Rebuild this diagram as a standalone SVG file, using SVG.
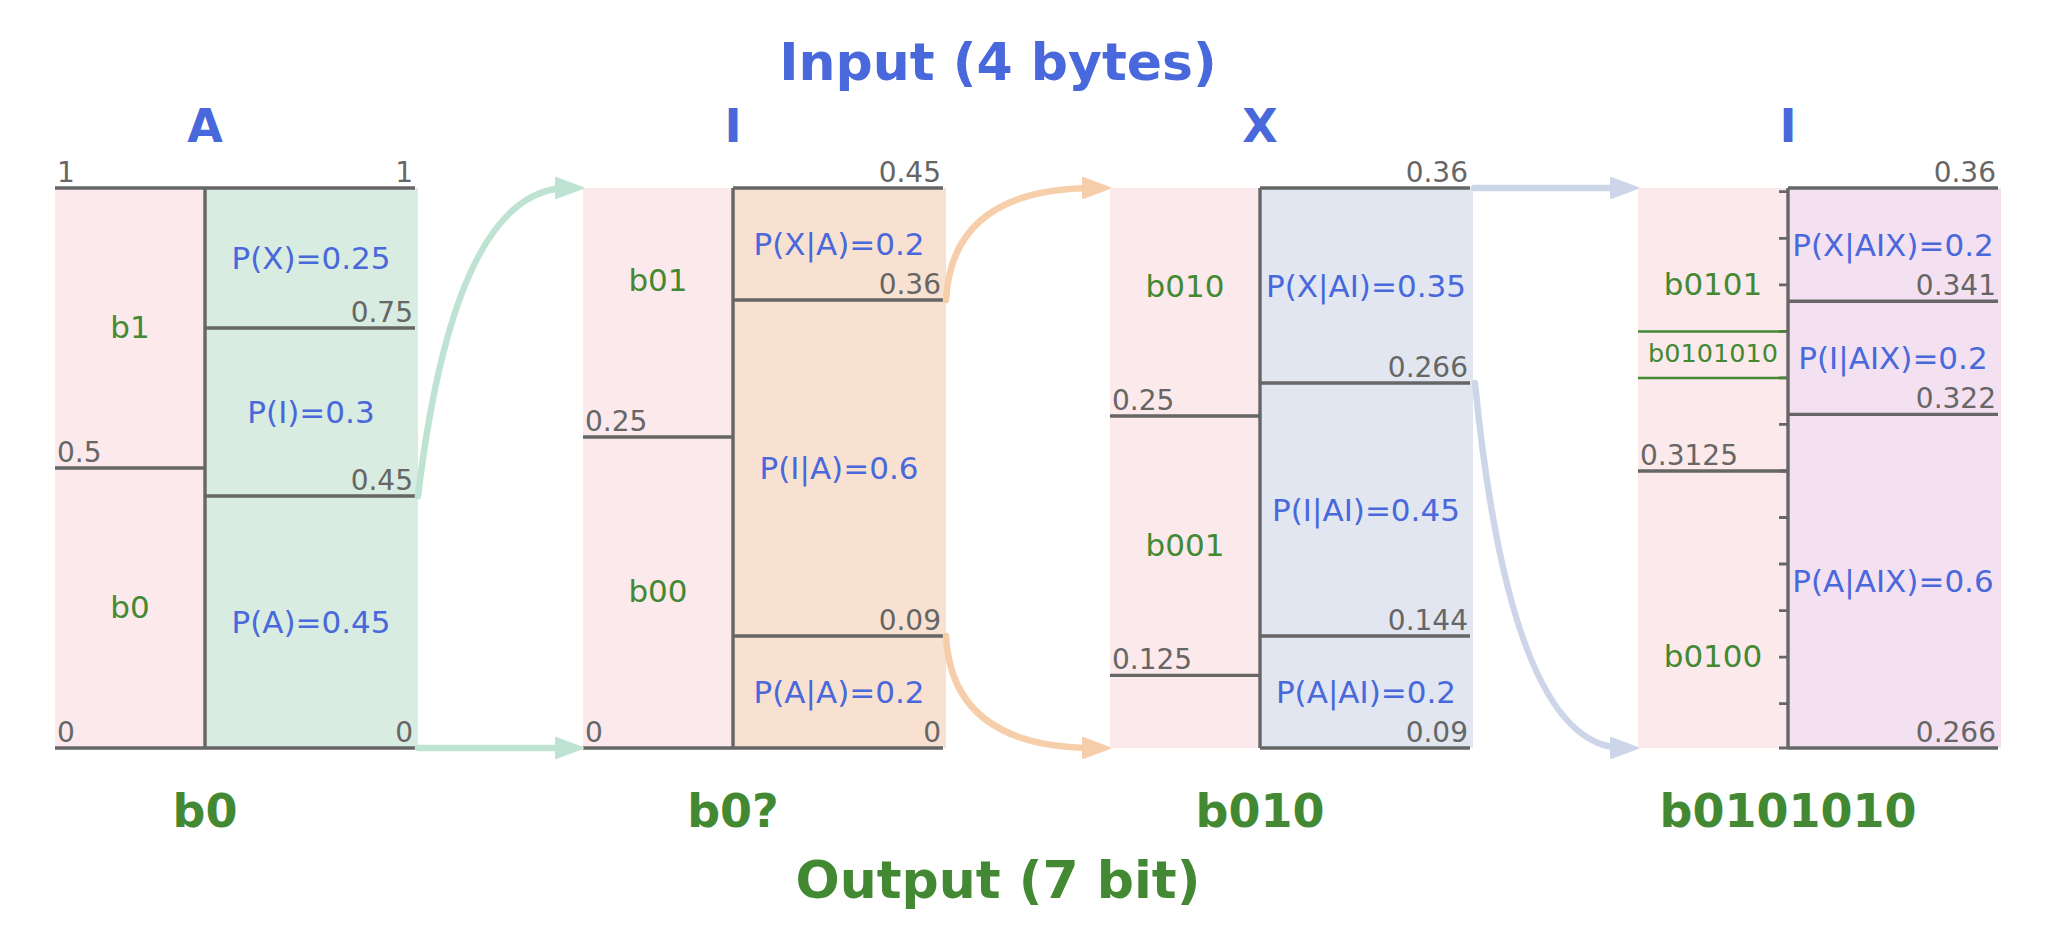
<svg xmlns="http://www.w3.org/2000/svg" width="2062" height="932" viewBox="0 0 2062 932">
<style>
text{font-family:"DejaVu Sans","Liberation Sans",sans-serif}
.pink{fill:#fce9eb}
.ln{stroke:#666;stroke-width:3.4;fill:none}
.tk{stroke:#666;stroke-width:2.8;fill:none}
.gl{font-size:28px;fill:#666}
.e{text-anchor:end}
.pl{font-size:31px;fill:#4868db;text-anchor:middle}
.bl{font-size:31px;fill:#438833;text-anchor:middle}
.ttlb{font-size:46px;font-weight:bold;fill:#4868db;text-anchor:middle}
.ttlg{font-size:46px;font-weight:bold;fill:#438833;text-anchor:middle}
.big{font-size:52px;font-weight:bold;text-anchor:middle}
.cg{stroke:#bee3d2;stroke-width:6.5;fill:none;stroke-linecap:round}
.co{stroke:#f6ceaa;stroke-width:6.5;fill:none;stroke-linecap:round}
.cb{stroke:#cdd5e8;stroke-width:6.5;fill:none;stroke-linecap:round}
</style>
<defs>
<marker id="hg" markerUnits="userSpaceOnUse" markerWidth="30" markerHeight="24" refX="12" refY="10" orient="auto" overflow="visible"><path d="M0,0 L27,10 L0,20 Z" fill="#bee3d2" stroke="#bee3d2" stroke-width="2" stroke-linejoin="round"/></marker>
<marker id="ho" markerUnits="userSpaceOnUse" markerWidth="30" markerHeight="24" refX="12" refY="10" orient="auto" overflow="visible"><path d="M0,0 L27,10 L0,20 Z" fill="#f6ceaa" stroke="#f6ceaa" stroke-width="2" stroke-linejoin="round"/></marker>
<marker id="hb" markerUnits="userSpaceOnUse" markerWidth="30" markerHeight="24" refX="12" refY="10" orient="auto" overflow="visible"><path d="M0,0 L27,10 L0,20 Z" fill="#cdd5e8" stroke="#cdd5e8" stroke-width="2" stroke-linejoin="round"/></marker>
</defs>
<rect width="2062" height="932" fill="#ffffff"/>

<g id="titles">
<text class="big" x="998" y="80" fill="#4868db">Input (4 bytes)</text>
<text class="big" x="998" y="898" fill="#438833">Output (7 bit)</text>
</g>

<g id="panel-A">
<text class="ttlb" x="205" y="142">A</text>
<rect class="pink" x="55" y="188" width="150" height="560"/>
<rect x="205" y="188" width="213" height="560" fill="#d8ece1"/>
<path class="ln" d="M55,188 H415 M55,748 H415 M205,188 V748 M55,468 H205 M205,328 H415 M205,496 H415"/>
<text class="gl" x="57" y="182">1</text>
<text class="gl e" x="413" y="182">1</text>
<text class="gl e" x="413" y="322">0.75</text>
<text class="gl e" x="413" y="490">0.45</text>
<text class="gl" x="57" y="462">0.5</text>
<text class="gl" x="57" y="742">0</text>
<text class="gl e" x="413" y="742">0</text>
<text class="pl" x="311" y="269">P(X)=0.25</text>
<text class="pl" x="311" y="423">P(I)=0.3</text>
<text class="pl" x="311" y="633">P(A)=0.45</text>
<text class="bl" x="130" y="338">b1</text>
<text class="bl" x="130" y="618">b0</text>
<text class="ttlg" x="205" y="827">b0</text>
</g>

<g id="panel-I">
<text class="ttlb" x="733" y="142">I</text>
<rect class="pink" x="583" y="188" width="150" height="560"/>
<rect x="733" y="188" width="213" height="560" fill="#f9e1d1"/>
<path class="ln" d="M733,188 H943 M583,748 H943 M733,188 V748 M583,437 H733 M733,300 H943 M733,636 H943"/>
<text class="gl e" x="941" y="182">0.45</text>
<text class="gl e" x="941" y="294">0.36</text>
<text class="gl e" x="941" y="630">0.09</text>
<text class="gl e" x="941" y="742">0</text>
<text class="gl" x="585" y="431">0.25</text>
<text class="gl" x="585" y="742">0</text>
<text class="pl" x="839" y="255">P(X|A)=0.2</text>
<text class="pl" x="839" y="479">P(I|A)=0.6</text>
<text class="pl" x="839" y="703">P(A|A)=0.2</text>
<text class="bl" x="658" y="291">b01</text>
<text class="bl" x="658" y="602">b00</text>
<text class="ttlg" x="733" y="827">b0?</text>
</g>

<g id="panel-X">
<text class="ttlb" x="1260" y="142">X</text>
<rect class="pink" x="1110" y="188" width="150" height="560"/>
<rect x="1260" y="188" width="213" height="560" fill="#e1e6f1"/>
<path class="ln" d="M1260,188 H1470 M1260,748 H1470 M1260,188 V748 M1110,416 H1260 M1110,675.4 H1260 M1260,383 H1470 M1260,636 H1470"/>
<text class="gl e" x="1468" y="182">0.36</text>
<text class="gl e" x="1468" y="377">0.266</text>
<text class="gl e" x="1468" y="630">0.144</text>
<text class="gl e" x="1468" y="742">0.09</text>
<text class="gl" x="1112" y="410">0.25</text>
<text class="gl" x="1112" y="669">0.125</text>
<text class="pl" x="1366" y="297">P(X|AI)=0.35</text>
<text class="pl" x="1366" y="521">P(I|AI)=0.45</text>
<text class="pl" x="1366" y="703">P(A|AI)=0.2</text>
<text class="bl" x="1185" y="297">b010</text>
<text class="bl" x="1185" y="556">b001</text>
<text class="ttlg" x="1260" y="827">b010</text>
</g>

<g id="panel-I2">
<text class="ttlb" x="1788" y="142">I</text>
<rect class="pink" x="1638" y="188" width="150" height="560"/>
<rect x="1788" y="188" width="213" height="560" fill="#f3e0f0"/>
<path class="tk" d="M1779,191.7 H1788 M1779,238.3 H1788 M1779,284.8 H1788 M1779,331.4 H1788 M1779,377.9 H1788 M1779,424.4 H1788 M1779,471 H1788 M1779,517.5 H1788 M1779,564 H1788 M1779,610.6 H1788 M1779,657.1 H1788 M1779,703.7 H1788 M1779,748 H1788"/>
<path d="M1638,331.4 H1786 M1638,377.9 H1786" stroke="#438833" stroke-width="2.5" fill="none"/>
<path class="ln" d="M1788,188 H1998 M1788,748 H1998 M1788,188 V748 M1638,471 H1788 M1788,301.2 H1998 M1788,414.4 H1998"/>
<text class="gl e" x="1996" y="182">0.36</text>
<text class="gl e" x="1996" y="295">0.341</text>
<text class="gl e" x="1996" y="408">0.322</text>
<text class="gl e" x="1996" y="742">0.266</text>
<text class="gl" x="1640" y="465">0.3125</text>
<text class="pl" x="1893" y="256">P(X|AIX)=0.2</text>
<text class="pl" x="1893" y="369">P(I|AIX)=0.2</text>
<text class="pl" x="1893" y="592">P(A|AIX)=0.6</text>
<text class="bl" x="1713" y="295">b0101</text>
<text x="1713" y="362" font-size="25.5" fill="#438833" text-anchor="middle">b0101010</text>
<text class="bl" x="1713" y="667">b0100</text>
<text class="ttlg" x="1788" y="827">b0101010</text>
</g>

<g id="connectors">
<path class="cg" d="M418,496 Q455,188 568,188" marker-end="url(#hg)"/>
<path class="cg" d="M418,748 H568" marker-end="url(#hg)"/>
<path class="co" d="M946,300 Q952,188 1095,188" marker-end="url(#ho)"/>
<path class="co" d="M946,636 Q952,748 1095,748" marker-end="url(#ho)"/>
<path class="cb" d="M1474,188 H1623" marker-end="url(#hb)"/>
<path class="cb" d="M1475,383 Q1511,748 1623,748" marker-end="url(#hb)"/>
</g>
</svg>
